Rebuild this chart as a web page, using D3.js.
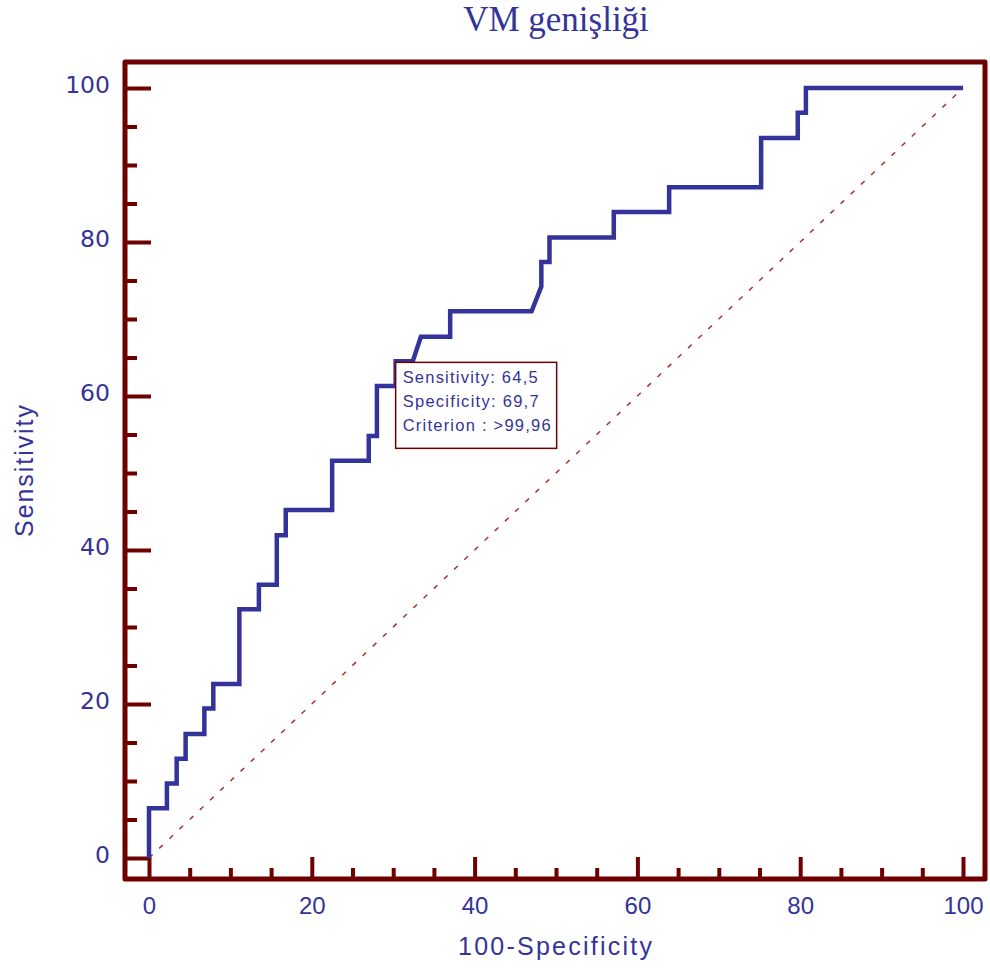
<!DOCTYPE html>
<html>
<head>
<meta charset="utf-8">
<script src="https://cdn.jsdelivr.net/npm/d3@7"></script>
<style>
    body { margin: 0; background: #fff; }
    svg { display: block; }
</style>
</head>
<body>
<div id="chart"></div>
<script>
// ROC curve vertices (100-Specificity, Sensitivity)
var fpr  = [0, 0, 2.2, 2.2, 3.4, 3.4, 4.5, 4.5, 6.8, 6.8, 7.9, 7.9, 11.1, 11.1, 13.5, 13.5, 15.7, 15.7, 16.8, 16.8,
            22.5, 22.5, 27.0, 27.0, 28.0, 28.0, 30.3, 30.3, 32.4, 33.4, 37.0, 37.0, 47.0, 48.2, 48.2, 49.2, 49.2,
            57.1, 57.1, 63.9, 63.9, 75.2, 75.2, 79.7, 79.7, 80.7, 80.7, 100];
var sens = [0, 6.45, 6.45, 9.68, 9.68, 12.9, 12.9, 16.1, 16.1, 19.4, 19.4, 22.6, 22.6, 32.3, 32.3, 35.5, 35.5, 41.9, 41.9, 45.2,
            45.2, 51.6, 51.6, 54.8, 54.8, 61.3, 61.3, 64.5, 64.5, 67.7, 67.7, 71.0, 71.0, 74.2, 77.4, 77.4, 80.6,
            80.6, 83.9, 83.9, 87.1, 87.1, 93.5, 93.5, 96.8, 96.8, 100, 100];

var majorTicks = [0, 20, 40, 60, 80, 100];
var minorTicks = [5, 10, 15, 25, 30, 35, 45, 50, 55, 65, 70, 75, 85, 90, 95];

var cutPoint = [30.3, 64.5];
var cutLabels = ['Sensitivity: 64,5', 'Specificity: 69,7', 'Criterion : >99,96'];
var cutWidths = [135, 136, 148];

var title = 'VM genişliği';
var xTitle = '100-Specificity';
var yTitle = 'Sensitivity';

var width = 990;
var height = 968;
var blue = '#333399';
var maroon = '#6e0000';

var x = d3.scaleLinear().domain([0, 100]).range([149, 963]);
var y = d3.scaleLinear().domain([0, 100]).range([858, 88]);

var svg = d3.select('#chart').append('svg')
    .attr('width', width)
    .attr('height', height);

// title
svg.append('text')
    .attr('x', 556)
    .attr('y', 31)
    .attr('text-anchor', 'middle')
    .attr('font-family', '"Liberation Serif", "Times New Roman", serif')
    .attr('font-size', 35)
    .attr('fill', blue)
    .text(title);

// frame
var frame = { left: 125, top: 62, right: 985, bottom: 879 };
svg.append('rect')
    .attr('x', frame.left)
    .attr('y', frame.top)
    .attr('width', frame.right - frame.left)
    .attr('height', frame.bottom - frame.top)
    .attr('fill', 'none')
    .attr('stroke', maroon)
    .attr('stroke-width', 5)
    .attr('stroke-linejoin', 'round');

// y axis: ticks point inside, labels outside
var yMajor = svg.append('g')
    .attr('transform', 'translate(' + frame.left + ',0)')
    .call(d3.axisLeft(y).tickValues(majorTicks).tickSizeInner(-26).tickSizeOuter(0).tickPadding(15));
var yMinor = svg.append('g')
    .attr('transform', 'translate(' + frame.left + ',0)')
    .call(d3.axisLeft(y).tickValues(minorTicks).tickSizeInner(-12).tickSizeOuter(0).tickFormat(''));

var xMajor = svg.append('g')
    .attr('transform', 'translate(0,' + frame.bottom + ')')
    .call(d3.axisBottom(x).tickValues(majorTicks).tickSizeInner(-22).tickSizeOuter(0).tickPadding(18));
var xMinor = svg.append('g')
    .attr('transform', 'translate(0,' + frame.bottom + ')')
    .call(d3.axisBottom(x).tickValues(minorTicks).tickSizeInner(-11).tickSizeOuter(0).tickFormat(''));

[yMajor, yMinor, xMajor, xMinor].forEach(function (g) {
    g.select('.domain').remove();
    g.selectAll('.tick line')
        .attr('stroke', maroon)
        .attr('stroke-width', 4);
});

yMajor.selectAll('.tick text')
    .attr('fill', blue)
    .attr('font-family', '"DejaVu Sans", Verdana, sans-serif')
    .attr('font-size', 23.5)
    .attr('dy', '0.2em');

xMajor.selectAll('.tick text')
    .attr('fill', blue)
    .attr('font-family', '"Liberation Sans", Arial, sans-serif')
    .attr('font-size', 24);

// axis titles
svg.append('text')
    .attr('x', 555)
    .attr('y', 955)
    .attr('text-anchor', 'middle')
    .attr('font-family', '"Liberation Sans", Arial, sans-serif')
    .attr('font-size', 25)
    .attr('textLength', 194)
    .attr('lengthAdjust', 'spacing')
    .attr('fill', blue)
    .text(xTitle);

svg.append('text')
    .attr('transform', 'translate(33,471) rotate(-90)')
    .attr('text-anchor', 'middle')
    .attr('font-family', '"Liberation Sans", Arial, sans-serif')
    .attr('font-size', 25)
    .attr('textLength', 132)
    .attr('lengthAdjust', 'spacing')
    .attr('fill', blue)
    .text(yTitle);

// reference diagonal
svg.append('line')
    .attr('x1', x(0))
    .attr('y1', y(0))
    .attr('x2', x(100))
    .attr('y2', y(100))
    .attr('stroke', '#a83232')
    .attr('stroke-width', 1.5)
    .attr('stroke-dasharray', '5,9');

// ROC curve
var line = d3.line()
    .x(function (d, i) { return x(fpr[i]); })
    .y(function (d, i) { return y(sens[i]); });

svg.append('path')
    .datum(fpr)
    .attr('d', line)
    .attr('fill', 'none')
    .attr('stroke', blue)
    .attr('stroke-width', 4.5)
    .attr('stroke-linejoin', 'miter');

// criterion box at the cut point
var bx = x(cutPoint[0]);
var by = y(cutPoint[1]);
var box = svg.append('g').attr('transform', 'translate(' + bx + ',' + by + ')');
box.append('rect')
    .attr('x', 0)
    .attr('y', 1)
    .attr('width', 161)
    .attr('height', 86)
    .attr('fill', '#fff')
    .attr('stroke', maroon)
    .attr('stroke-width', 1.5);
box.selectAll('text')
    .data(cutLabels)
    .enter()
    .append('text')
    .attr('x', 7)
    .attr('y', function (d, i) { return 22 + i * 24; })
    .attr('font-family', '"Liberation Sans", Arial, sans-serif')
    .attr('font-size', 16.5)
    .attr('textLength', function (d, i) { return cutWidths[i]; })
    .attr('lengthAdjust', 'spacing')
    .attr('fill', blue)
    .text(function (d) { return d; });
</script>
</body>
</html>
